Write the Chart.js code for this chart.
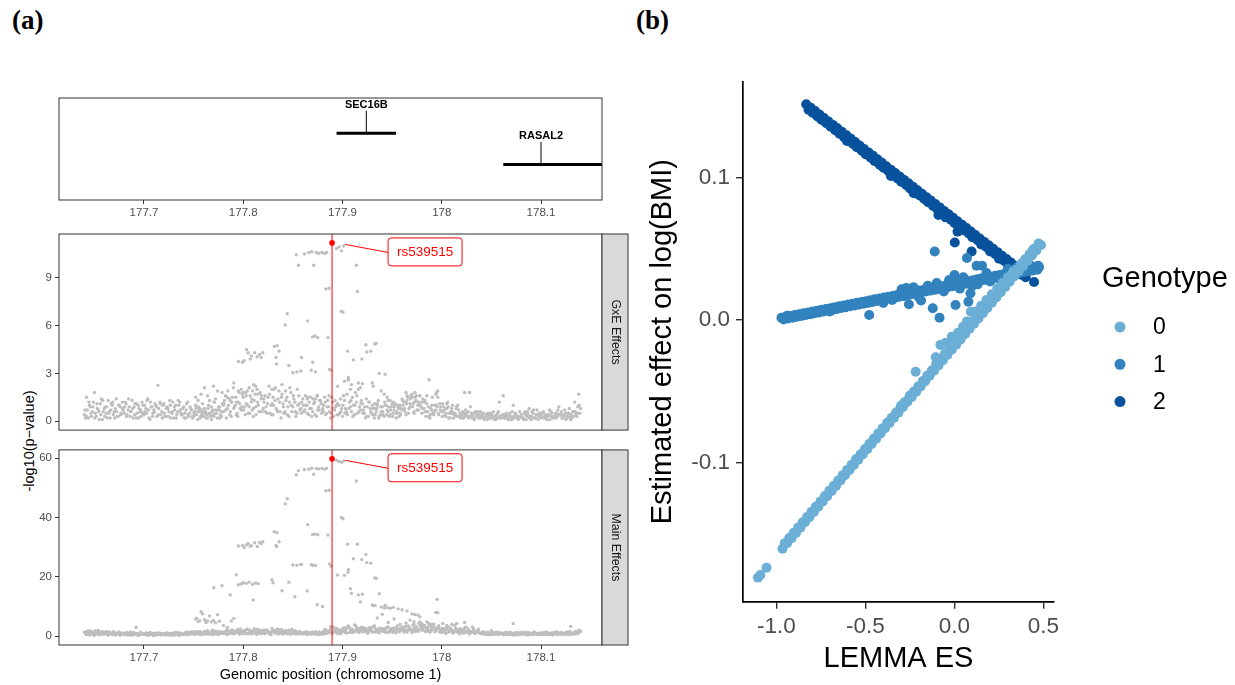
<!DOCTYPE html>
<html>
<head>
<meta charset="utf-8">
<script src="https://cdn.jsdelivr.net/npm/chart.js@4.4.1/dist/chart.umd.min.js"></script>
<style>
  html, body { margin:0; padding:0; background:#ffffff; }
  body { position:relative; width:1235px; height:685px; overflow:hidden; }
  canvas { position:absolute; }
  .panel-tag { position:absolute; font-family:"Liberation Serif","Times New Roman",serif; font-weight:bold; font-size:27px; line-height:27px; color:#000; }
  #ytitleA { position:absolute; width:200px; height:20px; line-height:20px; text-align:center; font-family:"Liberation Sans",Arial,sans-serif; font-size:14.5px; color:#000; transform:rotate(-90deg); white-space:nowrap; }
</style>
</head>
<body>
<div class="panel-tag" style="left:12px;top:7px;">(a)</div>
<div class="panel-tag" style="left:636px;top:7px;">(b)</div>
<div id="ytitleA" style="left:-71.5px;top:431px;">-log10(p&#8722;value)</div>
<canvas id="geneTrack" width="640" height="136" style="left:0;top:88px;"></canvas>
<canvas id="gxePanel" width="640" height="216" style="left:0;top:224px;"></canvas>
<canvas id="mainPanel" width="640" height="245" style="left:0;top:440px;"></canvas>
<canvas id="esPanel" width="615" height="645" style="left:620px;top:40px;"></canvas>
<script>
// ===================== DATA =====================
// Genes (chromosome 1, Mb)
const geneNames    = ["SEC16B", "RASAL2"];
const geneStart    = [177.894, 178.062];
const geneEnd      = [177.954, 178.448];
const geneLabelPos = [177.924, 178.100];
const geneRow      = [2, 1];

// Tick values
const posTicks = [177.7, 177.8, 177.9, 178, 178.1];
const gxeTicks = [0, 3, 6, 9];
const mainTicks = [0, 20, 40, 60];

// Lead SNP
const leadSnp = "rs539515";
const leadPos = 177.8895;
const leadGxE = 11.2;
const leadMain = 59.8;

// SNP block A (positions in Mb, -log10 p for GxE and main effects)
const snpPosA = [
177.640,177.642,177.644,177.646,177.648,177.650,177.652,177.654,177.656,177.658,
177.660,177.662,177.664,177.666,177.668,177.670,177.672,177.674,177.676,177.678,
177.680,177.682,177.684,177.686,177.688,177.690,177.692,177.694,177.696,177.698,
177.700,177.702,177.704,177.706,177.708,177.710,177.712,177.714,177.716,177.718,
177.720,177.722,177.724,177.726,177.728,177.730,177.732,177.734,177.736,177.738,
177.740,177.742,177.744,177.746,177.748,177.750,177.752,177.754,177.756,177.758,
177.760,177.762,177.764,177.766,177.768,177.770,177.772,177.774,177.776,177.778,
177.780,177.782,177.784,177.786,177.788,177.790,177.792,177.794,177.796,177.798,
177.800,177.802,177.804,177.806,177.808,177.810,177.812,177.814,177.816,177.818,
177.820,177.822,177.824,177.826,177.828,177.830,177.832,177.834,177.836,177.838,
177.840,177.842,177.844,177.846,177.848,177.850,177.852,177.854,177.856,177.858,
177.860,177.862,177.864,177.866,177.868,177.870,177.872,177.874,177.876,177.878,
177.880,177.882,177.884,177.886,177.888,177.890,177.892,177.894,177.896,177.898,
177.900,177.902,177.904,177.906,177.908,177.910,177.912,177.914,177.916,177.918,
177.920,177.922,177.924,177.926,177.928,177.930,177.932,177.934,177.936,177.938,
177.940,177.942,177.944,177.946,177.948,177.950,177.952,177.954,177.956,177.958,
177.960,177.962,177.964,177.966,177.968,177.970,177.972,177.974,177.976,177.978,
177.980,177.982,177.984,177.986,177.988,177.990,177.992,177.994,177.996,177.998,
178.000,178.002,178.004,178.006,178.008,178.010,178.012,178.014,178.016,178.018,
178.020,178.022,178.024,178.026,178.028,178.030,178.032,178.034,178.036,178.038,
178.040,178.042,178.044,178.046,178.048,178.050,178.052,178.054,178.056,178.058,
178.060,178.062,178.064,178.066,178.068,178.070,178.072,178.074,178.076,178.078,
178.080,178.082,178.084,178.086,178.088,178.090,178.092,178.094,178.096,178.098,
178.100,178.102,178.104,178.106,178.108,178.110,178.112,178.114,178.116,178.118,
178.120,178.122,178.124,178.126,178.128,178.130,178.132,178.134,178.136,178.138,
178.140];
const gxeA = [
0.4,1.5,0.2,0.9,0.6,1.8,0.3,0.7,1.1,0.1,
0.8,0.5,1.3,0.2,1.0,0.6,1.4,0.3,0.9,1.2,
0.5,1.1,0.7,0.3,1.3,0.9,0.2,1.0,0.6,1.2,
0.4,0.8,1.4,0.1,0.9,0.7,1.0,2.25,1.2,0.6,
1.1,0.3,0.8,1.3,0.5,0.2,1.0,0.6,1.2,0.4,
0.9,0.2,1.2,0.5,0.7,0.3,1.0,0.1,0.8,0.4,
0.3,0.6,0.2,0.5,0.1,0.4,0.7,0.2,0.9,0.3,
0.6,1.6,0.8,1.4,0.3,2.1,1.0,0.5,1.8,0.7,
1.5,0.4,1.9,0.9,1.2,0.3,1.7,2.0,0.6,1.4,
0.8,1.6,0.5,2.2,1.0,0.4,1.3,0.7,1.9,0.2,
1.1,0.6,1.5,0.3,1.8,0.9,1.2,0.5,1.6,0.8,
1.4,0.7,1.0,0.4,1.5,0.6,1.2,0.3,0.9,1.3,
0.8,1.5,0.5,0.9,0.2,1.2,0.7,1.0,0.4,1.4,
0.3,1.3,0.6,2.6,0.9,1.5,0.4,1.2,2.0,0.7,
1.1,0.5,1.4,0.3,0.8,1.0,0.2,0.6,1.3,0.4,
0.9,0.3,1.0,0.6,0.4,1.1,0.7,0.2,0.9,0.5,
0.7,1.2,0.4,1.5,0.9,1.7,0.6,1.3,1.0,1.6,
0.5,0.8,0.3,0.6,0.2,1.0,0.4,0.7,1.9,1.1,
0.6,0.9,0.3,1.2,0.5,0.8,0.2,0.4,1.0,0.3,
0.4,0.2,0.7,0.3,1.8,0.5,0.2,0.6,0.3,0.4,
0.2,0.5,0.3,0.1,0.4,0.2,0.6,0.3,0.2,1.2,
0.3,1.6,0.2,0.4,0.1,0.3,0.2,0.5,0.3,0.2,
0.4,0.2,0.6,0.3,0.8,0.1,0.5,0.2,0.7,0.3,
0.2,0.5,0.3,0.1,0.4,0.6,0.2,0.3,0.5,0.9,
0.4,0.2,0.7,0.3,0.5,0.1,0.6,1.2,0.3,1.7,
0.8];
const mainA = [
1.2,0.5,1.8,0.9,1.4,0.3,1.1,1.9,0.6,1.5,
0.8,1.6,0.4,1.2,0.7,1.3,0.5,1.0,0.3,1.1,
0.6,0.9,0.4,1.4,0.5,0.8,3.0,0.3,0.7,0.9,
0.5,1.1,0.3,0.8,0.6,1.0,0.4,0.9,0.7,0.5,
0.8,0.4,1.0,0.6,0.3,0.9,0.5,1.2,0.4,0.7,
0.6,1.0,0.5,0.9,1.4,0.7,1.1,0.8,1.6,0.5,
1.2,0.6,1.8,0.9,1.3,0.5,1.7,1.0,0.7,1.4,
0.9,1.5,0.6,1.2,1.9,0.8,1.4,2.2,0.7,1.1,
1.6,0.9,2.3,1.1,0.7,1.8,1.3,0.6,2.0,1.0,
1.4,0.8,2.1,1.2,0.5,1.7,1.0,2.4,0.9,1.3,
0.7,1.5,1.0,2.0,0.6,1.1,1.8,0.9,1.3,0.8,
0.8,1.2,0.6,1.0,0.9,1.3,0.7,1.1,0.5,1.0,
1.1,0.7,1.6,1.2,3.2,0.9,1.8,2.6,1.3,0.8,
1.5,2.8,1.0,3.4,1.9,1.2,3.8,2.1,1.4,2.5,
3.0,1.7,2.4,1.1,2.9,1.6,3.5,2.2,1.3,2.7,
1.9,2.6,1.2,3.1,2.0,1.5,2.8,1.1,2.3,1.7,
2.5,1.4,3.3,1.9,2.7,1.2,3.9,2.2,1.6,4.8,
2.0,3.6,1.5,2.9,1.3,2.4,4.0,1.8,2.6,1.4,
1.2,2.5,0.9,3.2,1.6,2.0,1.1,2.8,1.4,0.8,
2.2,1.0,3.0,1.6,0.7,1.3,2.4,0.9,1.8,1.1,
0.8,1.5,0.6,1.2,0.9,0.5,1.1,0.7,1.3,0.6,
1.0,0.5,0.8,1.2,0.6,0.9,0.4,1.1,0.7,0.5,
0.9,0.6,1.3,0.4,1.0,0.7,0.5,1.2,0.8,0.6,
1.1,0.5,0.8,1.3,0.6,0.9,0.4,1.0,1.5,0.7,
0.6,1.0,0.8,1.4,0.5,3.3,0.9,0.7,1.2,2.0,
1.6];

// SNP block B
const snpPosB = [
177.641,177.643,177.645,177.647,177.649,177.651,177.653,177.655,177.657,177.659,
177.661,177.663,177.665,177.667,177.669,177.671,177.673,177.675,177.677,177.679,
177.681,177.683,177.685,177.687,177.689,177.691,177.693,177.695,177.697,177.699,
177.701,177.703,177.705,177.707,177.709,177.711,177.713,177.715,177.717,177.719,
177.721,177.723,177.725,177.727,177.729,177.731,177.733,177.735,177.737,177.739,
177.741,177.743,177.745,177.747,177.749,177.751,177.753,177.755,177.757,177.759,
177.761,177.763,177.765,177.767,177.769,177.771,177.773,177.775,177.777,177.779,
177.781,177.783,177.785,177.787,177.789,177.791,177.793,177.795,177.797,177.799,
177.801,177.803,177.805,177.807,177.809,177.811,177.813,177.815,177.817,177.819,
177.821,177.823,177.825,177.827,177.829,177.831,177.833,177.835,177.837,177.839,
177.841,177.843,177.845,177.847,177.849,177.851,177.853,177.855,177.857,177.859,
177.861,177.863,177.865,177.867,177.869,177.871,177.873,177.875,177.877,177.879,
177.881,177.883,177.885,177.887,177.889,177.891,177.893,177.895,177.897,177.899,
177.901,177.903,177.905,177.907,177.909,177.911,177.913,177.915,177.917,177.919,
177.921,177.923,177.925,177.927,177.929,177.931,177.933,177.935,177.937,177.939,
177.941,177.943,177.945,177.947,177.949,177.951,177.953,177.955,177.957,177.959,
177.961,177.963,177.965,177.967,177.969,177.971,177.973,177.975,177.977,177.979,
177.981,177.983,177.985,177.987,177.989,177.991,177.993,177.995,177.997,177.999,
178.001,178.003,178.005,178.007,178.009,178.011,178.013,178.015,178.017,178.019,
178.021,178.023,178.025,178.027,178.029,178.031,178.033,178.035,178.037,178.039,
178.041,178.043,178.045,178.047,178.049,178.051,178.053,178.055,178.057,178.059,
178.061,178.063,178.065,178.067,178.069,178.071,178.073,178.075,178.077,178.079,
178.081,178.083,178.085,178.087,178.089,178.091,178.093,178.095,178.097,178.099,
178.101,178.103,178.105,178.107,178.109,178.111,178.113,178.115,178.117,178.119,
178.121,178.123,178.125,178.127,178.129,178.131,178.133,178.135,178.137,178.139];
const gxeB = [
0.2,0.7,1.0,0.3,1.2,0.5,0.8,0.1,1.4,0.6,
0.9,0.2,0.6,1.1,0.4,0.8,0.3,1.0,0.5,0.7,
1.2,0.4,0.9,0.6,0.2,1.1,0.5,0.8,0.3,1.0,
0.6,1.3,0.2,0.9,0.5,1.1,0.3,0.8,0.4,1.0,
0.3,0.9,0.6,0.2,1.2,0.7,0.4,1.0,0.5,0.8,
0.5,1.1,0.3,0.8,0.2,0.6,0.4,0.9,0.3,0.6,
0.8,0.4,1.0,0.3,0.7,1.2,0.5,0.9,0.4,1.1,
1.3,0.2,1.0,0.6,1.5,0.9,0.4,1.2,0.8,1.7,
0.9,1.1,0.5,1.6,0.7,1.3,0.4,1.0,1.8,0.6,
1.2,0.9,1.5,0.5,1.1,2.0,0.8,1.4,0.6,1.7,
0.5,1.3,0.9,2.1,0.6,1.4,0.3,1.0,0.7,1.2,
0.6,1.0,1.5,0.8,0.3,1.1,1.4,0.7,1.3,0.5,
1.0,0.4,1.3,0.6,1.5,0.3,0.9,1.1,0.5,0.8,
1.6,0.8,0.4,1.2,0.6,1.0,1.8,0.5,0.9,1.3,
0.7,0.2,0.9,1.2,0.5,0.8,0.4,1.0,0.3,0.6,
0.4,1.0,0.7,0.3,0.9,0.5,1.1,0.6,0.3,0.8,
1.0,0.6,1.3,0.8,1.6,1.1,1.5,0.7,1.2,0.9,
1.4,0.6,1.1,0.3,0.8,0.5,1.0,1.8,0.4,0.9,
1.1,0.4,0.8,0.2,0.6,1.0,0.5,0.3,0.7,0.2,
0.6,0.3,0.5,0.2,0.9,0.4,0.1,0.5,0.2,0.6,
0.3,0.1,0.4,0.2,0.5,0.3,0.1,0.4,0.6,0.2,
0.4,0.2,0.5,0.1,0.3,0.6,0.2,0.4,0.1,0.3,
0.2,0.5,0.1,0.4,0.3,0.6,0.2,0.4,0.1,0.3,
0.5,0.2,0.4,0.3,0.1,0.5,0.3,0.2,0.7,0.4,
0.2,0.4,0.1,0.5,0.3,0.2,0.6,0.4,0.9,0.5];
const mainB = [
0.9,1.6,0.4,1.3,0.7,1.8,1.0,0.5,1.4,0.8,
1.2,0.5,1.0,0.7,1.5,0.4,0.9,1.3,0.6,1.0,
0.5,1.1,0.8,0.4,1.2,0.6,0.9,0.3,1.0,0.7,
0.8,0.4,1.0,0.6,0.3,0.9,0.5,1.1,0.4,0.8,
0.6,1.0,0.4,0.8,0.5,1.2,0.7,0.3,0.9,0.6,
1.0,0.5,1.3,0.7,1.1,0.6,1.5,0.9,1.2,0.8,
1.6,0.9,1.3,0.6,2.0,1.1,0.8,1.5,0.9,1.2,
1.0,1.8,0.7,1.4,2.1,0.9,1.6,1.2,2.4,0.8,
1.3,2.2,0.9,1.7,1.1,2.5,0.8,1.5,1.0,1.9,
2.0,1.2,1.6,0.9,2.6,1.3,1.8,0.7,1.4,2.2,
1.2,1.9,0.8,1.4,2.3,1.0,1.6,0.7,1.3,1.1,
0.9,1.4,0.7,1.2,0.6,1.0,1.5,0.8,1.1,0.6,
1.3,0.9,1.7,2.0,1.1,3.0,1.5,0.9,2.2,1.4,
2.7,1.8,3.1,1.2,2.4,1.6,3.6,2.0,1.3,2.9,
1.5,2.3,1.0,2.8,1.8,3.2,1.4,2.1,1.1,2.6,
2.2,1.4,3.0,1.7,2.5,1.2,2.0,3.4,1.5,2.3,
1.9,3.1,1.4,2.6,2.0,3.7,1.6,2.4,4.3,2.9,
3.3,1.7,2.5,4.1,2.0,3.0,1.5,2.7,3.5,1.9,
2.6,1.3,3.0,1.9,2.4,1.1,3.7,1.6,2.2,1.4,
1.8,2.7,1.2,2.0,1.5,3.1,1.0,1.7,2.3,0.9,
1.3,0.7,1.1,0.5,0.9,1.4,0.6,1.0,0.8,1.2,
0.7,1.1,0.5,0.9,1.3,0.6,1.0,0.4,0.8,1.1,
1.2,0.6,0.9,0.5,1.1,0.7,1.4,0.6,0.9,0.5,
0.8,1.2,0.6,1.0,0.5,0.9,1.3,0.7,0.5,1.1,
0.9,0.5,1.2,0.7,1.6,0.6,1.0,1.4,0.8,1.8];

// SNP block D
const snpPosD = [
177.6405,177.6425,177.6445,177.6465,177.6485,177.6505,177.6525,177.6545,177.6565,177.6585,
177.6605,177.6625,177.6645,177.6665,177.6685,177.6705,177.6725,177.6745,177.6765,177.6785,
177.6805,177.6825,177.6845,177.6865,177.6885,177.6905,177.6925,177.6945,177.6965,177.6985,
177.7005,177.7025,177.7045,177.7065,177.7085,177.7105,177.7125,177.7145,177.7165,177.7185,
177.7205,177.7225,177.7245,177.7265,177.7285,177.7305,177.7325,177.7345,177.7365,177.7385,
177.7405,177.7425,177.7445,177.7465,177.7485,177.7505,177.7525,177.7545,177.7565,177.7585,
177.7605,177.7625,177.7645,177.7665,177.7685,177.7705,177.7725,177.7745,177.7765,177.7785,
177.7805,177.7825,177.7845,177.7865,177.7885,177.7905,177.7925,177.7945,177.7965,177.7985,
177.8005,177.8025,177.8045,177.8065,177.8085,177.8105,177.8125,177.8145,177.8165,177.8185,
177.8205,177.8225,177.8245,177.8265,177.8285,177.8305,177.8325,177.8345,177.8365,177.8385,
177.8405,177.8425,177.8445,177.8465,177.8485,177.8505,177.8525,177.8545,177.8565,177.8585,
177.8605,177.8625,177.8645,177.8665,177.8685,177.8705,177.8725,177.8745,177.8765,177.8785,
177.8805,177.8825,177.8845,177.8865,177.8885,177.8905,177.8925,177.8945,177.8965,177.8985,
177.9005,177.9025,177.9045,177.9065,177.9085,177.9105,177.9125,177.9145,177.9165,177.9185,
177.9205,177.9225,177.9245,177.9265,177.9285,177.9305,177.9325,177.9345,177.9365,177.9385,
177.9405,177.9425,177.9445,177.9465,177.9485,177.9505,177.9525,177.9545,177.9565,177.9585,
177.9605,177.9625,177.9645,177.9665,177.9685,177.9705,177.9725,177.9745,177.9765,177.9785,
177.9805,177.9825,177.9845,177.9865,177.9885,177.9905,177.9925,177.9945,177.9965,177.9985,
178.0005,178.0025,178.0045,178.0065,178.0085,178.0105,178.0125,178.0145,178.0165,178.0185,
178.0205,178.0225,178.0245,178.0265,178.0285,178.0305,178.0325,178.0345,178.0365,178.0385,
178.0405,178.0425,178.0445,178.0465,178.0485,178.0505,178.0525,178.0545,178.0565,178.0585,
178.0605,178.0625,178.0645,178.0665,178.0685,178.0705,178.0725,178.0745,178.0765,178.0785,
178.0805,178.0825,178.0845,178.0865,178.0885,178.0905,178.0925,178.0945,178.0965,178.0985,
178.1005,178.1025,178.1045,178.1065,178.1085,178.1105,178.1125,178.1145,178.1165,178.1185,
178.1205,178.1225,178.1245,178.1265,178.1285,178.1305,178.1325,178.1345,178.1365,178.1385];
const gxeD = [
0.7,0.3,1.2,0.5,0.9,0.2,1.1,0.6,0.4,1.3,
0.3,0.9,0.5,0.7,1.2,0.2,0.6,1.0,0.4,0.8,
0.9,0.3,1.4,0.6,0.8,0.4,1.1,0.2,0.7,0.5,
1.0,0.5,0.7,1.2,0.3,0.6,0.9,0.4,1.1,0.2,
0.5,0.8,0.3,1.0,0.6,0.9,0.2,1.3,0.7,0.4,
0.2,0.7,0.4,0.9,0.3,0.5,0.8,0.6,0.2,0.7,
0.5,0.2,0.8,0.4,0.6,0.3,0.5,0.7,0.2,0.6,
1.1,0.7,1.9,0.4,1.2,0.8,1.5,0.3,1.1,0.9,
0.7,1.8,1.0,0.5,1.4,2.3,0.9,1.2,0.6,1.6,
1.4,0.6,1.1,1.7,0.4,1.0,2.1,0.6,1.2,1.5,
0.9,1.9,0.4,1.2,1.0,1.6,0.6,2.0,1.1,0.5,
1.0,1.6,0.5,1.2,0.8,1.4,0.4,1.6,0.7,1.1,
0.6,1.2,0.9,1.6,0.5,0.8,1.3,0.4,1.0,0.6,
1.0,0.5,1.7,0.8,1.3,0.3,1.0,1.6,0.6,1.1,
0.5,0.9,0.3,1.2,0.6,0.4,1.1,0.8,0.2,0.9,
0.6,1.2,0.4,0.9,0.7,0.3,1.0,0.5,0.8,0.4,
1.3,0.8,1.1,0.5,1.4,0.9,1.2,1.6,0.7,1.0,
0.8,1.2,0.6,0.9,0.4,1.5,0.6,1.0,0.5,0.7,
0.3,0.7,0.5,0.9,0.2,0.6,0.4,0.8,0.3,0.5,
0.2,0.5,0.4,0.6,0.3,0.2,0.5,0.3,0.6,0.2,
0.4,0.2,0.3,0.5,0.2,0.4,0.3,0.1,0.5,0.3,
0.2,0.4,0.3,0.2,0.5,0.1,0.3,0.4,0.2,0.6,
0.3,0.1,0.4,0.6,0.2,0.3,0.7,0.2,0.4,0.5,
0.3,0.6,0.2,0.4,0.7,0.3,0.2,0.5,0.3,0.4,
0.6,0.3,0.5,0.2,0.8,0.4,0.3,0.6,0.5,1.0];
const mainD = [
1.4,0.7,1.0,1.7,0.5,1.2,0.8,1.5,1.1,0.6,
1.0,0.6,1.4,0.9,0.5,1.1,0.8,1.3,0.6,0.9,
0.8,1.2,0.6,0.9,0.4,1.1,0.7,0.5,1.3,0.6,
0.7,0.9,0.5,1.2,0.8,0.4,1.0,0.6,0.9,0.7,
0.5,1.1,0.8,0.6,1.0,0.4,0.9,0.7,1.1,0.5,
0.8,1.3,0.6,1.2,0.9,1.5,0.7,1.1,0.6,1.0,
1.0,1.5,0.7,1.1,1.6,0.8,1.3,0.6,1.4,0.9,
1.4,0.8,2.0,1.3,0.9,1.7,1.1,1.9,1.3,1.6,
1.8,1.2,0.8,2.1,1.4,1.0,1.7,2.3,1.2,0.8,
1.1,1.9,1.4,0.8,1.6,2.0,1.2,1.5,2.2,1.0,
1.5,0.9,1.3,1.7,1.0,1.4,0.8,1.2,1.6,1.0,
1.1,0.8,1.3,0.7,1.2,0.9,1.0,0.6,1.4,0.9,
1.6,2.3,1.0,1.5,2.7,1.2,2.0,1.6,1.1,1.9,
2.2,1.3,2.6,3.0,1.7,2.2,1.5,2.9,2.4,1.8,
2.1,2.7,1.6,1.9,2.5,1.4,2.8,1.7,2.4,2.0,
1.6,2.1,2.7,1.3,1.9,2.4,1.7,2.6,1.9,2.8,
3.0,2.2,1.8,3.4,2.3,2.0,2.8,3.2,2.1,3.6,
2.4,3.0,2.2,1.8,3.4,2.2,2.9,2.0,3.1,2.4,
2.0,1.7,2.3,1.4,2.8,1.9,1.6,2.1,1.8,2.5,
1.5,1.9,1.4,2.4,1.1,1.6,1.9,1.3,1.5,1.0,
1.0,1.2,0.8,1.3,0.7,1.1,0.9,1.3,0.6,0.9,
0.9,0.6,1.2,0.8,0.7,1.0,0.6,0.9,1.2,0.7,
0.7,1.0,0.8,1.2,0.6,0.9,1.0,0.8,0.6,1.0,
1.0,0.7,1.2,0.6,0.9,1.1,0.7,0.8,1.1,0.9,
1.2,0.8,1.0,0.6,1.3,1.1,0.8,1.6,1.0,1.4];

// SNP block C (associated region)
const snpPosC = [
177.8940,177.8965,177.8990,177.9010,177.8534,177.8556,177.8616,177.8660,177.8690,177.8710,
177.8735,177.8760,177.8792,177.8821,177.8840,177.9141,177.9150,177.8833,177.8866,177.8989,
177.9005,177.8443,177.8423,177.8649,177.8698,177.8723,177.8751,177.8854,177.8312,177.8341,
177.8361,177.8330,177.8335,177.9326,177.9340,177.9236,177.9051,177.9245,177.9285,177.8033,
177.8050,177.8082,177.8115,177.8140,177.8164,177.8197,177.7951,177.7992,177.8010,177.8070,
177.8180,177.9195,177.9110,177.8587,177.8500,177.8540,177.8580,177.8685,177.8728,177.8700,
177.8870,177.8885,177.8460,177.9370,177.9429,177.9060,177.9055,177.9020,177.8950,177.9080,
177.9090,177.9160,177.9200,177.9180,177.9300,177.9310,177.9390,177.9420,177.9450,177.9480,
177.9511,177.9560,177.9600,177.9650,177.9700,177.9730,177.9760,177.9780,177.9954,177.9940,
177.9960,177.9872,177.7930,177.7950,177.7980,177.8000,177.8030,177.8060,177.8095,177.8125,
177.8150,177.8290,177.8300,177.7704,177.7786,177.7869,177.8100,177.8390,177.8645,177.8520,
177.8800,177.8745,177.7520,177.7530,177.7545,177.7560,177.7575,177.7590,177.7610,177.7625,
177.7640,177.7660,177.7680,177.7700,177.7720,177.7740,177.7760,177.7800,177.7840,177.7880,
177.7905,177.9330,177.9350,177.9400,177.9460,177.9520,177.9580,177.9640,177.9680,177.9720,
177.9800,177.9830,177.9850,177.9900,178.0010,178.0050,178.0100,178.0150,178.0230,178.0500,
178.0720];
const gxeC = [
10.85,10.95,10.70,11.00,10.45,9.80,10.50,10.60,10.65,9.80,
10.60,10.55,10.60,10.55,10.60,9.80,8.15,8.30,8.35,6.90,
6.85,6.75,6.05,6.30,5.30,5.35,5.25,5.25,4.70,4.75,
4.40,4.00,3.60,4.85,4.90,4.80,4.40,4.35,4.40,4.50,
4.30,4.10,4.30,4.05,4.20,4.30,3.75,3.70,3.80,3.90,
4.00,3.90,3.85,4.00,3.05,3.10,3.15,3.20,3.10,3.70,
3.25,3.20,3.50,3.00,2.95,2.75,2.60,2.50,2.20,2.00,
2.30,2.40,2.35,2.10,2.40,2.20,1.90,1.70,1.50,1.30,
1.20,1.00,1.40,1.60,1.50,1.80,1.20,1.60,0.90,1.70,
1.50,2.60,1.20,1.90,2.00,1.80,1.60,2.10,1.90,2.20,
1.70,2.00,1.50,1.20,1.80,1.30,0.80,2.30,1.40,1.20,
0.70,1.60,1.50,0.90,1.30,0.60,1.70,1.10,2.10,0.50,
1.60,1.30,0.90,2.20,1.40,1.90,0.70,1.00,1.50,1.20,
2.40,0.80,1.10,0.60,1.30,0.90,1.00,1.80,1.10,0.50,
1.20,1.30,1.60,0.70,0.60,1.10,0.50,0.90,1.80,0.30,
1.00];
const mainC = [
59.3,58.9,58.6,59.1,54.4,55.8,56.2,56.3,56.6,54.6,
56.5,56.4,56.5,56.3,56.6,52.3,31.0,49.0,49.2,40.0,
39.6,46.3,44.6,37.6,34.3,34.4,34.2,34.1,35.2,34.9,
31.8,30.6,30.2,19.6,19.5,27.5,31.0,24.8,24.6,30.8,
31.2,30.5,31.5,30.2,31.6,31.8,30.4,30.6,29.9,30.3,
31.2,25.8,26.1,24.2,24.0,23.9,24.2,24.1,23.8,23.9,
24.3,23.6,18.2,14.3,10.4,22.4,21.5,20.5,20.6,16.0,
14.4,13.9,14.1,11.5,10.5,10.3,9.8,9.5,9.6,9.4,
9.7,9.2,8.9,8.5,7.5,7.3,7.1,6.5,12.4,8.0,
7.9,4.2,20.7,17.3,17.6,18.0,17.8,18.2,17.5,17.9,
17.7,19.0,18.0,16.3,17.0,13.9,12.2,15.3,15.2,13.3,
10.0,10.6,5.8,6.0,4.9,5.2,8.2,7.5,5.5,4.6,
5.1,6.8,4.8,5.3,4.5,7.2,5.0,3.6,2.9,5.1,
6.0,10.3,6.1,7.4,4.6,5.8,3.9,4.4,5.4,4.9,
4.2,3.5,4.8,3.9,4.3,3.6,4.0,4.3,4.6,1.8,
4.2];

// Panel (b): LEMMA ES vs estimated effect on log(BMI), by genotype
const genotypeLabels = ["0", "1", "2"];
const geno0X = [
-1.104,-1.09,-1.056,
-0.966,-0.94,-0.915,-0.89,-0.865,-0.84,-0.815,-0.79,-0.765,-0.74,-0.715,-0.69,-0.665,-0.64,-0.615,-0.59,-0.565,-0.54,-0.515,-0.49,
-0.465,-0.44,-0.415,-0.39,-0.365,-0.34,-0.315,-0.29,-0.265,-0.24,-0.215,-0.19,-0.165,-0.14,-0.115,-0.09,-0.065,-0.04,-0.015,
0.01,0.035,0.06,0.085,0.11,0.135,0.16,0.185,0.21,0.235,0.26,0.285,0.31,0.335,0.36,0.385,0.41,0.435,0.46,0.486,
-0.953,-0.928,-0.903,-0.878,-0.853,-0.828,-0.803,-0.778,-0.753,-0.728,-0.703,-0.678,-0.653,-0.628,-0.603,-0.578,-0.553,-0.528,-0.503,-0.478,
-0.453,-0.428,-0.403,-0.378,-0.353,-0.328,-0.303,-0.278,-0.253,-0.228,-0.203,-0.178,-0.153,-0.128,-0.103,-0.078,-0.053,-0.028,-0.003,
0.022,0.047,0.072,0.097,0.122,0.147,0.172,0.197,0.222,0.247,0.272,0.297,0.322,0.347,0.372,0.397,0.422,0.447,0.472,
-0.55,-0.30,-0.25,-0.218,-0.105,-0.079,-0.05,-0.015,0.02,0.048,0.07,0.092,0.12,0.15,0.18,0.21,0.24,0.27,0.30,0.33,0.38,0.44];
const geno0Y = [
-0.1808,-0.1790,-0.1738,
-0.1605,-0.1567,-0.1531,-0.1494,-0.1457,-0.1420,-0.1384,-0.1347,-0.1310,-0.1274,-0.1237,-0.1200,-0.1164,-0.1127,-0.1090,-0.1053,-0.1017,-0.0980,-0.0943,-0.0907,
-0.0870,-0.0833,-0.0797,-0.0760,-0.0723,-0.0687,-0.0650,-0.0613,-0.0576,-0.0540,-0.0503,-0.0466,-0.0430,-0.0393,-0.0356,-0.0319,-0.0283,-0.0246,-0.0209,
-0.0173,-0.0136,-0.0099,-0.0062,-0.0026,0.0011,0.0048,0.0084,0.0121,0.0158,0.0194,0.0231,0.0268,0.0305,0.0341,0.0378,0.0415,0.0452,0.0488,0.0526,
-0.1566,-0.1530,-0.1493,-0.1456,-0.1420,-0.1383,-0.1346,-0.1309,-0.1273,-0.1236,-0.1199,-0.1163,-0.1126,-0.1089,-0.1052,-0.1016,-0.0979,-0.0942,-0.0906,-0.0869,
-0.0832,-0.0796,-0.0759,-0.0722,-0.0686,-0.0649,-0.0612,-0.0575,-0.0539,-0.0502,-0.0465,-0.0429,-0.0392,-0.0355,-0.0309,-0.0272,-0.0235,-0.0198,-0.0162,
-0.0125,-0.0088,-0.0052,-0.0015,0.0022,0.0059,0.0095,0.0132,0.0169,0.0205,0.0242,0.0279,0.0315,0.0352,0.0389,0.0426,0.0462,0.0499,0.0536,
-0.0975,-0.0600,-0.0530,-0.0363,-0.0262,-0.0175,-0.0160,-0.0117,-0.0090,-0.0047,-0.0010,0.0058,0.0060,0.0100,0.0140,0.0180,0.0220,0.0260,0.0300,0.0340,0.0400,0.0490];
const geno1X = [
-0.972,-0.947,-0.922,-0.897,-0.872,-0.847,-0.822,-0.797,-0.772,-0.747,-0.722,-0.697,-0.672,-0.647,-0.622,-0.597,-0.572,-0.547,-0.522,-0.497,
-0.472,-0.447,-0.422,-0.397,-0.372,-0.347,-0.322,-0.297,-0.272,-0.247,-0.222,-0.197,-0.172,-0.147,-0.122,-0.097,-0.072,-0.047,-0.022,
0.003,0.028,0.053,0.078,0.103,0.128,0.153,0.178,0.203,0.228,0.253,0.278,0.303,0.328,0.353,0.378,0.403,0.428,0.453,0.475,
-0.96,-0.935,-0.91,-0.885,-0.86,-0.835,-0.81,-0.785,-0.76,-0.735,-0.71,-0.685,-0.66,-0.635,-0.61,-0.585,-0.56,-0.535,-0.51,-0.485,
-0.46,-0.435,-0.41,-0.385,-0.36,-0.335,-0.31,-0.285,-0.26,-0.235,-0.21,-0.185,-0.16,-0.135,-0.11,-0.085,-0.06,-0.035,-0.01,
0.015,0.04,0.065,0.09,0.115,0.14,0.165,0.19,0.215,0.24,0.265,0.29,0.315,0.34,0.365,0.39,0.415,0.44,0.465,
-0.94,-0.80,-0.70,-0.479,-0.40,-0.35,-0.297,-0.27,-0.256,-0.23,-0.20,-0.188,-0.15,-0.122,-0.111,-0.10,-0.084,-0.06,-0.03,0.0,
0.006,0.03,0.05,0.07,0.078,0.09,0.10,0.124,0.13,0.155,0.18,0.20,0.25,0.30,0.35,0.43,0.47];
const geno1Y = [
0.0016,0.0022,0.0028,0.0034,0.0041,0.0047,0.0053,0.0059,0.0065,0.0071,0.0077,0.0083,0.0090,0.0096,0.0102,0.0108,0.0114,0.0120,0.0126,0.0132,
0.0139,0.0145,0.0151,0.0157,0.0163,0.0169,0.0175,0.0181,0.0188,0.0194,0.0200,0.0206,0.0212,0.0218,0.0224,0.0230,0.0236,0.0243,0.0249,
0.0255,0.0261,0.0267,0.0273,0.0279,0.0285,0.0292,0.0298,0.0304,0.0310,0.0316,0.0322,0.0328,0.0334,0.0341,0.0347,0.0353,0.0359,0.0365,0.0371,
0.0004,0.0010,0.0016,0.0022,0.0028,0.0035,0.0041,0.0047,0.0053,0.0059,0.0065,0.0071,0.0077,0.0084,0.0090,0.0096,0.0102,0.0108,0.0114,0.0120,
0.0126,0.0133,0.0139,0.0145,0.0151,0.0157,0.0163,0.0169,0.0175,0.0182,0.0188,0.0194,0.0200,0.0206,0.0212,0.0218,0.0224,0.0231,0.0237,
0.0243,0.0249,0.0255,0.0261,0.0267,0.0273,0.0280,0.0286,0.0292,0.0298,0.0304,0.0310,0.0316,0.0322,0.0329,0.0335,0.0341,0.0347,0.0353,
0.0030,0.0045,0.0060,0.0035,0.0120,0.0140,0.0215,0.0225,0.0110,0.0230,0.0160,0.0136,0.0240,0.0082,0.0480,0.0260,0.0016,0.0200,0.0280,0.0316,
0.0105,0.0220,0.0300,0.0435,0.0128,0.0187,0.0240,0.0380,0.0250,0.0380,0.0330,0.0270,0.0290,0.0360,0.0370,0.0380,0.0380];
const geno2X = [
-0.833,-0.808,-0.783,-0.758,-0.733,-0.708,-0.683,-0.658,-0.633,-0.608,-0.583,-0.558,-0.533,-0.508,-0.483,-0.458,-0.433,-0.408,-0.383,-0.358,
-0.333,-0.308,-0.283,-0.258,-0.233,-0.208,-0.183,-0.158,-0.133,-0.108,-0.083,-0.058,-0.033,-0.008,
0.017,0.042,0.067,0.092,0.117,0.142,0.167,0.192,0.217,0.242,0.267,0.292,0.317,0.342,0.367,
-0.82,-0.795,-0.77,-0.745,-0.72,-0.695,-0.67,-0.645,-0.62,-0.595,-0.57,-0.545,-0.52,-0.495,-0.47,-0.445,-0.42,-0.395,-0.37,-0.345,
-0.32,-0.295,-0.27,-0.245,-0.22,-0.195,-0.17,-0.145,-0.12,-0.095,-0.07,-0.045,-0.02,
0.005,0.03,0.055,0.08,0.105,0.13,0.155,0.18,0.205,0.23,0.255,0.28,0.305,0.33,0.355,
-0.80,-0.75,-0.70,-0.65,-0.604,-0.55,-0.50,-0.45,-0.40,-0.357,-0.30,-0.25,-0.229,-0.20,-0.15,-0.09,-0.05,0.0,0.017,0.05,
0.0016,0.096,0.10,0.15,0.20,0.25,0.30,0.358,0.40,0.447,0.38];
const geno2Y = [
0.1514,0.1490,0.1466,0.1442,0.1417,0.1393,0.1369,0.1345,0.1321,0.1297,0.1273,0.1248,0.1224,0.1200,0.1176,0.1152,0.1128,0.1103,0.1079,0.1055,
0.1031,0.1007,0.0983,0.0959,0.0934,0.0910,0.0886,0.0862,0.0838,0.0814,0.0790,0.0765,0.0741,0.0717,
0.0693,0.0669,0.0645,0.0620,0.0596,0.0572,0.0548,0.0524,0.0500,0.0476,0.0451,0.0427,0.0403,0.0379,0.0355,
0.1476,0.1452,0.1428,0.1404,0.1380,0.1356,0.1332,0.1307,0.1283,0.1259,0.1235,0.1211,0.1187,0.1162,0.1138,0.1114,0.1090,0.1066,0.1042,0.1018,
0.0993,0.0969,0.0945,0.0921,0.0897,0.0873,0.0849,0.0824,0.0800,0.0776,0.0752,0.0728,0.0704,
0.0679,0.0655,0.0631,0.0607,0.0583,0.0559,0.0535,0.0510,0.0486,0.0462,0.0438,0.0414,0.0390,0.0366,0.0341,
0.1460,0.1410,0.1365,0.1315,0.1256,0.1215,0.1165,0.1118,0.1070,0.1010,0.0972,0.0925,0.0889,0.0880,0.0830,0.0737,0.0720,0.0680,0.0620,0.0630,
0.0543,0.0480,0.0580,0.0530,0.0480,0.0430,0.0385,0.0330,0.0300,0.0267,0.0315];
const esTicks = [-1.0, -0.5, 0.0, 0.5];
const effTicks = [-0.1, 0.0, 0.1];

// ===================== STYLE / LAYOUT =====================
const FONT = '"Liberation Sans", Arial, Helvetica, sans-serif';
const X_MIN = 177.61436, X_MAX = 178.16146;
const GXE_MIN = -0.56, GXE_MAX = 11.76;
const MAIN_MIN = -2.99, MAIN_MAX = 62.79;
const GENE_MIN = -0.134, GENE_MAX = 3.123, STEM = 0.72, LABEL_UP = 0.9;
const GREY = '#BEBEBE', RED = '#FF0000';
const COLORS = ['#6BAED6', '#3182BD', '#08519C'];

const fixW = w => s => { s.width = w; };
const fixH = h => s => { s.height = h; };
const setTicks = vals => s => { s.ticks = vals.map(v => ({ value: v })); };
const tickOnly = (len, color, lw) => ({ display: true, drawOnChartArea: false, drawTicks: true, tickLength: len, color: color, lineWidth: lw });
const toPts = (xs, ys) => xs.map((x, i) => ({ x: x, y: ys[i] }));

function roundRectPath(ctx, x, y, w, h, r) {
  ctx.beginPath();
  ctx.moveTo(x + r, y);
  ctx.lineTo(x + w - r, y); ctx.arcTo(x + w, y, x + w, y + r, r);
  ctx.lineTo(x + w, y + h - r); ctx.arcTo(x + w, y + h, x + w - r, y + h, r);
  ctx.lineTo(x + r, y + h); ctx.arcTo(x, y + h, x, y + h - r, r);
  ctx.lineTo(x, y + r); ctx.arcTo(x, y, x + r, y, r);
  ctx.closePath();
}

// Panel border + facet strip
const panelBox = {
  id: 'panelBox',
  afterDraw(chart, args, o) {
    if (!o || !o.on) return;
    const ctx = chart.ctx, a = chart.chartArea;
    ctx.save();
    ctx.strokeStyle = o.color; ctx.lineWidth = o.width;
    ctx.strokeRect(a.left, a.top, a.right - a.left, a.bottom - a.top);
    if (o.strip) {
      const w = o.stripWidth;
      ctx.fillStyle = '#D9D9D9';
      ctx.fillRect(a.right, a.top, w, a.bottom - a.top);
      ctx.strokeRect(a.right, a.top, w, a.bottom - a.top);
      ctx.fillStyle = '#1A1A1A';
      ctx.font = o.stripSize + 'px ' + FONT;
      ctx.textAlign = 'center'; ctx.textBaseline = 'middle';
      ctx.translate(a.right + w / 2, (a.top + a.bottom) / 2);
      ctx.rotate(Math.PI / 2);
      ctx.fillText(o.strip, 0, 0);
    }
    ctx.restore();
  }
};

// Lead SNP label (ggrepel-like)
const leadLabel = {
  id: 'leadLabel',
  afterDatasetsDraw(chart, args, o) {
    if (!o || !o.text) return;
    const ctx = chart.ctx;
    const px = chart.scales.x.getPixelForValue(o.x);
    const py = chart.scales.y.getPixelForValue(o.y);
    ctx.save();
    ctx.strokeStyle = RED; ctx.lineWidth = 1;
    ctx.beginPath(); ctx.moveTo(px + 13, py + 1.5); ctx.lineTo(px + 56, py + 9.5); ctx.stroke();
    const bx = px + 56, by = py - 5, bw = 74, bh = 28;
    roundRectPath(ctx, bx, by, bw, bh, 3);
    ctx.fillStyle = '#FFFFFF'; ctx.fill(); ctx.stroke();
    ctx.fillStyle = RED; ctx.font = '13.5px ' + FONT;
    ctx.textAlign = 'center'; ctx.textBaseline = 'middle';
    ctx.fillText(o.text, bx + bw / 2, by + bh / 2 + 0.5);
    ctx.restore();
  }
};

// Gene names
const geneLabels = {
  id: 'geneLabels',
  afterDatasetsDraw(chart) {
    const ctx = chart.ctx;
    ctx.save();
    ctx.fillStyle = '#000'; ctx.font = 'bold 11px ' + FONT;
    ctx.textAlign = 'center'; ctx.textBaseline = 'middle';
    geneNames.forEach((g, i) => {
      ctx.fillText(g, chart.scales.x.getPixelForValue(geneLabelPos[i]), chart.scales.y.getPixelForValue(geneRow[i] + LABEL_UP));
    });
    ctx.restore();
  }
};

// Genotype legend
const genoLegend = {
  id: 'genoLegend',
  afterDraw(chart, args, o) {
    const ctx = chart.ctx;
    ctx.save();
    ctx.textAlign = 'left'; ctx.textBaseline = 'middle';
    ctx.fillStyle = '#000'; ctx.font = o.titleSize + 'px ' + FONT;
    ctx.fillText(o.title, o.x, o.titleY);
    const ds = chart.data.datasets.slice().sort((a, b) => a.order - b.order);
    ds.forEach((d, i) => {
      const y = o.itemY0 + i * o.itemGap;
      ctx.beginPath(); ctx.arc(o.x + o.keyDx, y, o.r, 0, Math.PI * 2);
      ctx.fillStyle = d.backgroundColor; ctx.fill();
      ctx.fillStyle = '#000'; ctx.font = o.labelSize + 'px ' + FONT;
      ctx.fillText(d.label, o.x + o.labelDx, y + 1);
    });
    ctx.restore();
  }
};

const baseOpts = { responsive: false, animation: false, events: [] };
const noLegend = { legend: { display: false }, tooltip: { enabled: false } };
const tickFontA = { family: FONT, size: 11.5 };

function posAxis(showLabels, h, withTitle) {
  return {
    type: 'linear', min: X_MIN, max: X_MAX, display: showLabels,
    afterFit: fixH(h), afterBuildTicks: setTicks(posTicks),
    ticks: { autoSkip: false, maxRotation: 0, font: tickFontA, color: '#4D4D4D', padding: 2, callback: v => String(v) },
    grid: tickOnly(4, '#333333', 1), border: { display: false },
    title: withTitle ? { display: true, text: 'Genomic position (chromosome 1)', color: '#000', font: { family: FONT, size: 14.5 }, padding: { top: 0, bottom: 1 } } : { display: false }
  };
}

function manhattanData(vals, leadVal, yMin, yMax) {
  const pts = toPts(snpPosA, vals[0]).concat(toPts(snpPosB, vals[1]), toPts(snpPosD, vals[2]), toPts(snpPosC, vals[3]));
  return { datasets: [
    { data: pts, backgroundColor: GREY, pointRadius: 1.7, pointBorderWidth: 0, order: 3 },
    { data: [{ x: leadPos, y: yMin }, { x: leadPos, y: yMax }], showLine: true, borderColor: RED, borderWidth: 1, pointRadius: 0, order: 2 },
    { data: [{ x: leadPos, y: leadVal }], backgroundColor: RED, pointRadius: 2.8, pointBorderWidth: 0, order: 1 }
  ] };
}

// ===================== (a) Gene track =====================
new Chart(document.getElementById('geneTrack'), {
  type: 'scatter',
  data: { datasets: [
    ...geneNames.map((g, i) => ({ data: [{ x: geneStart[i], y: geneRow[i] }, { x: geneEnd[i], y: geneRow[i] }], showLine: true, borderColor: '#000', borderWidth: 3, pointRadius: 0 })),
    ...geneNames.map((g, i) => ({ data: [{ x: geneLabelPos[i], y: geneRow[i] }, { x: geneLabelPos[i], y: geneRow[i] + STEM }], showLine: true, borderColor: '#000', borderWidth: 1, pointRadius: 0 }))
  ] },
  options: Object.assign({}, baseOpts, {
    layout: { padding: { left: 59, right: 38, top: 10, bottom: 0 } },
    scales: {
      x: posAxis(true, 24, false),
      y: { type: 'linear', display: false, min: GENE_MIN, max: GENE_MAX }
    },
    plugins: Object.assign({}, noLegend, { panelBox: { on: true, color: '#333333', width: 1 } })
  }),
  plugins: [panelBox, geneLabels]
});

// ===================== (a) GxE panel =====================
new Chart(document.getElementById('gxePanel'), {
  type: 'scatter',
  data: manhattanData([gxeA, gxeB, gxeD, gxeC], leadGxE, GXE_MIN, GXE_MAX),
  options: Object.assign({}, baseOpts, {
    layout: { padding: { left: 0, right: 38, top: 10, bottom: 3 } },
    scales: {
      x: posAxis(false, 0, false),
      y: { type: 'linear', min: GXE_MIN, max: GXE_MAX, afterFit: fixW(59), afterBuildTicks: setTicks(gxeTicks),
           ticks: { font: tickFontA, color: '#4D4D4D', padding: 3, callback: v => String(v) },
           grid: tickOnly(4, '#333333', 1), border: { display: false } }
    },
    plugins: Object.assign({}, noLegend, {
      panelBox: { on: true, color: '#333333', width: 1, strip: 'GxE Effects', stripWidth: 26, stripSize: 12.4 },
      leadLabel: { text: leadSnp, x: leadPos, y: leadGxE }
    })
  }),
  plugins: [panelBox, leadLabel]
});

// ===================== (a) Main panel =====================
new Chart(document.getElementById('mainPanel'), {
  type: 'scatter',
  data: manhattanData([mainA, mainB, mainD, mainC], leadMain, MAIN_MIN, MAIN_MAX),
  options: Object.assign({}, baseOpts, {
    layout: { padding: { left: 0, right: 38, top: 2, bottom: 0 } },
    scales: {
      x: posAxis(true, 40, true),
      y: { type: 'linear', min: MAIN_MIN, max: MAIN_MAX, afterFit: fixW(59), afterBuildTicks: setTicks(mainTicks),
           ticks: { font: tickFontA, color: '#4D4D4D', padding: 3, callback: v => String(v) },
           grid: tickOnly(4, '#333333', 1), border: { display: false } }
    },
    plugins: Object.assign({}, noLegend, {
      panelBox: { on: true, color: '#333333', width: 1, strip: 'Main Effects', stripWidth: 26, stripSize: 12.4 },
      leadLabel: { text: leadSnp, x: leadPos, y: leadMain }
    })
  }),
  plugins: [panelBox, leadLabel]
});

// ===================== (b) Scatter =====================
const genoX = [geno0X, geno1X, geno2X];
const genoY = [geno0Y, geno1Y, geno2Y];
new Chart(document.getElementById('esPanel'), {
  type: 'scatter',
  data: { datasets: genotypeLabels.map((g, i) => ({
    label: g, data: toPts(genoX[i], genoY[i]), backgroundColor: COLORS[i],
    pointRadius: 5, pointBorderWidth: 0, order: i
  })) },
  options: Object.assign({}, baseOpts, {
    layout: { padding: { left: 0, right: 181, top: 41.7, bottom: 0 } },
    scales: {
      x: { type: 'linear', min: -1.188, max: 0.559, afterFit: fixH(83.3), afterBuildTicks: setTicks(esTicks),
           ticks: { autoSkip: false, maxRotation: 0, font: { family: FONT, size: 22.5 }, color: '#4D4D4D', padding: 5, callback: v => v.toFixed(1) },
           grid: tickOnly(7, '#333333', 1.4), border: { display: true, color: '#000', width: 1.7 },
           title: { display: true, text: 'LEMMA ES', color: '#000', font: { family: FONT, size: 29 }, padding: { top: 0, bottom: 9 } } },
      y: { type: 'linear', min: -0.1977, max: 0.1672, afterFit: fixW(123), afterBuildTicks: setTicks(effTicks),
           ticks: { font: { family: FONT, size: 22.5 }, color: '#4D4D4D', padding: 6, callback: v => v.toFixed(1) },
           grid: tickOnly(7, '#333333', 1.4), border: { display: true, color: '#000', width: 1.7 },
           title: { display: true, text: 'Estimated effect on log(BMI)', color: '#000', font: { family: FONT, size: 29 }, padding: { top: 26, bottom: 0 } } }
    },
    plugins: Object.assign({}, noLegend, {
      genoLegend: { title: 'Genotype', x: 482, titleY: 239, titleSize: 29, keyDx: 18, labelDx: 51, itemY0: 287, itemGap: 37.3, r: 5.5, labelSize: 23 }
    })
  }),
  plugins: [genoLegend]
});
</script>
</body>
</html>
